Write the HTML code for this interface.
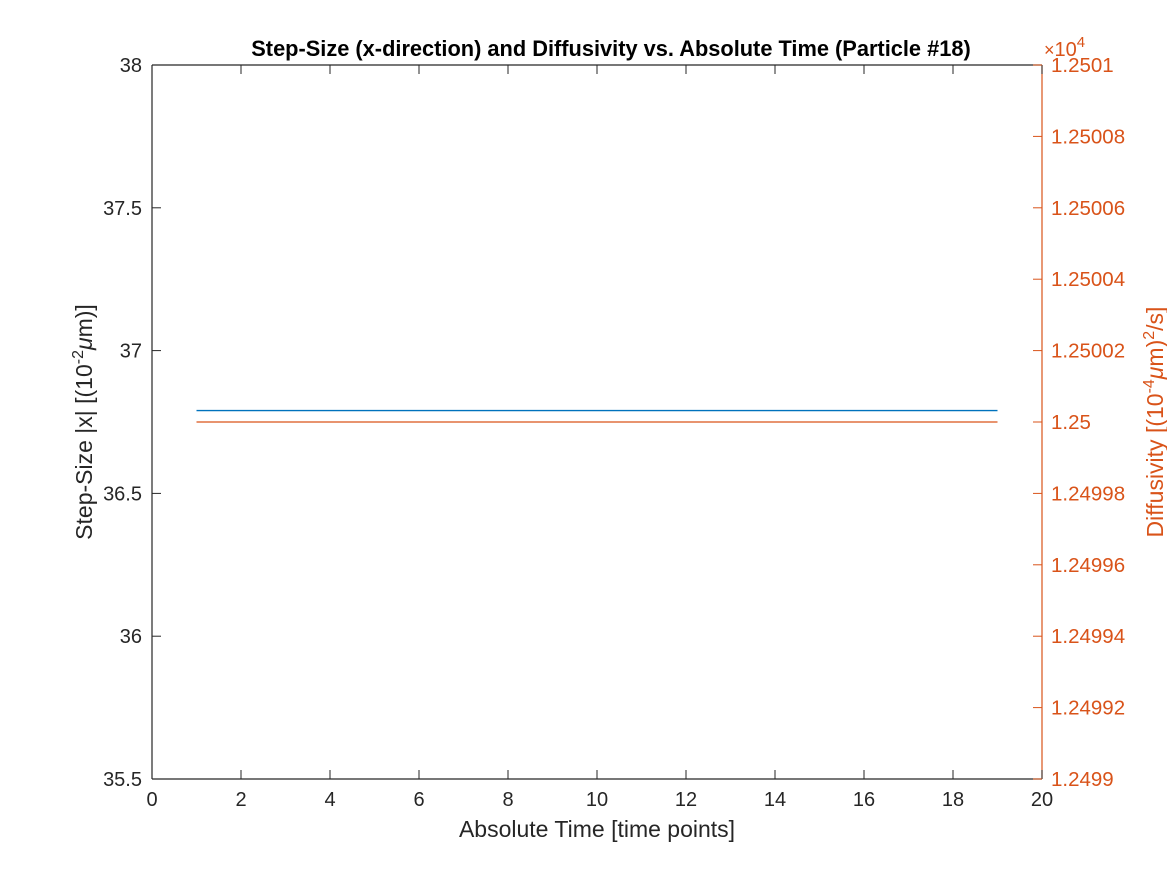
<!DOCTYPE html>
<html><head><meta charset="utf-8"><style>
body{margin:0;background:#fff;}
svg text{font-family:"Liberation Sans",Arial,sans-serif;}
</style></head><body>
<svg id="chart" width="1167" height="875" xmlns="http://www.w3.org/2000/svg"></svg>
<script>
const xTicks=[0,2,4,6,8,10,12,14,16,18,20];
const yLeftTicks=[35.5,36,36.5,37,37.5,38];
const yRightTicks=[1.2499,1.24992,1.24994,1.24996,1.24998,1.25,1.25002,1.25004,1.25006,1.25008,1.2501];
const yRightLabels=["1.2499","1.24992","1.24994","1.24996","1.24998","1.25","1.25002","1.25004","1.25006","1.25008","1.2501"];
const timePoints=[1,19];
const stepSize=[36.79,36.79];
const diffusivity=[1.25,1.25];

const L=152,R=1042,T=65,B=779;
const sx=v=>L+(v-0)/(20-0)*(R-L);
const syL=v=>B-(v-35.5)/(38-35.5)*(B-T);
const syR=v=>B-(v-1.2499)/(1.2501-1.2499)*(B-T);
const svg=document.getElementById('chart');
const NS='http://www.w3.org/2000/svg';
function mk(tag,attrs,txt){const e=document.createElementNS(NS,tag);for(const k in attrs)e.setAttribute(k,attrs[k]);if(txt!==undefined)e.textContent=txt;svg.appendChild(e);return e;}
const OR='#d95319';

let e;
e=mk('rect',{x:L,y:T,width:R-L,height:B-T,fill:'#fff'});



e=mk('line',{x1:sx(timePoints[0]),x2:sx(timePoints[1]),y1:syL(stepSize[0]),y2:syL(stepSize[1]),stroke:'#0072bd','stroke-width':1.3});


e=mk('line',{x1:sx(timePoints[0]),x2:sx(timePoints[1]),y1:syR(diffusivity[0]),y2:syR(diffusivity[1]),stroke:OR,'stroke-width':1.3});



e=mk('line',{x1:L,x2:R,y1:T,y2:T,stroke:'#262626','stroke-width':1.2});


e=mk('line',{x1:L,x2:R,y1:B,y2:B,stroke:'#262626','stroke-width':1.2});


e=mk('line',{x1:L,x2:L,y1:T,y2:B,stroke:'#262626','stroke-width':1.2});


e=mk('line',{x1:R,x2:R,y1:T,y2:B,stroke:OR,'stroke-width':1.2});



xTicks.forEach(v=>{
  const x=sx(v);
  mk('line',{x1:x,x2:x,y1:B,y2:B-9,stroke:'#262626'});
  mk('line',{x1:x,x2:x,y1:T,y2:T+9,stroke:'#262626'});
  e=mk('text',{x:x,y:B+27,'text-anchor':'middle','font-size':20,fill:'#262626'},String(v));
  
  
});
yLeftTicks.forEach(v=>{
  const y=syL(v);
  mk('line',{x1:L,x2:L+9,y1:y,y2:y,stroke:'#262626'});
  e=mk('text',{x:L-10,y:y+7,'text-anchor':'end','font-size':20,fill:'#262626'},String(v));
  
  
});
yRightTicks.forEach((v,i)=>{
  const y=syR(v);
  mk('line',{x1:R,x2:R-9,y1:y,y2:y,stroke:OR});
  e=mk('text',{x:R+9,y:y+7,'font-size':20.5,fill:OR},yRightLabels[i]);
  
  
});
e=mk('text',{x:1044,y:56,'font-size':20,fill:OR},'');
e.innerHTML='<tspan font-size="18">×</tspan>10<tspan dy="-9" font-size="15">4</tspan>';



e=mk('text',{x:611,y:56,'text-anchor':'middle','font-size':21.8,'font-weight':'bold',fill:'#000'},'Step-Size (x-direction) and Diffusivity vs. Absolute Time (Particle #18)');


e=mk('text',{x:597,y:837,'text-anchor':'middle','font-size':23,fill:'#262626'},'Absolute Time [time points]');


e=mk('text',{x:0,y:0,'text-anchor':'middle','font-size':23,fill:'#262626',transform:'translate(92,422) rotate(-90)'},'');
e.innerHTML='Step-Size |x| [(10<tspan dy="-9" font-size="16">-2</tspan><tspan dy="9" font-style="italic">μ</tspan>m)]';


e=mk('text',{x:0,y:0,'text-anchor':'middle','font-size':23,fill:OR,transform:'translate(1163,422) rotate(-90)'},'');
e.innerHTML='Diffusivity [(10<tspan dy="-9" font-size="16">-4</tspan><tspan dy="9" font-style="italic">μ</tspan>m)<tspan dy="-9" font-size="16">2</tspan><tspan dy="9">/s]</tspan>';


</script>
</body></html>
